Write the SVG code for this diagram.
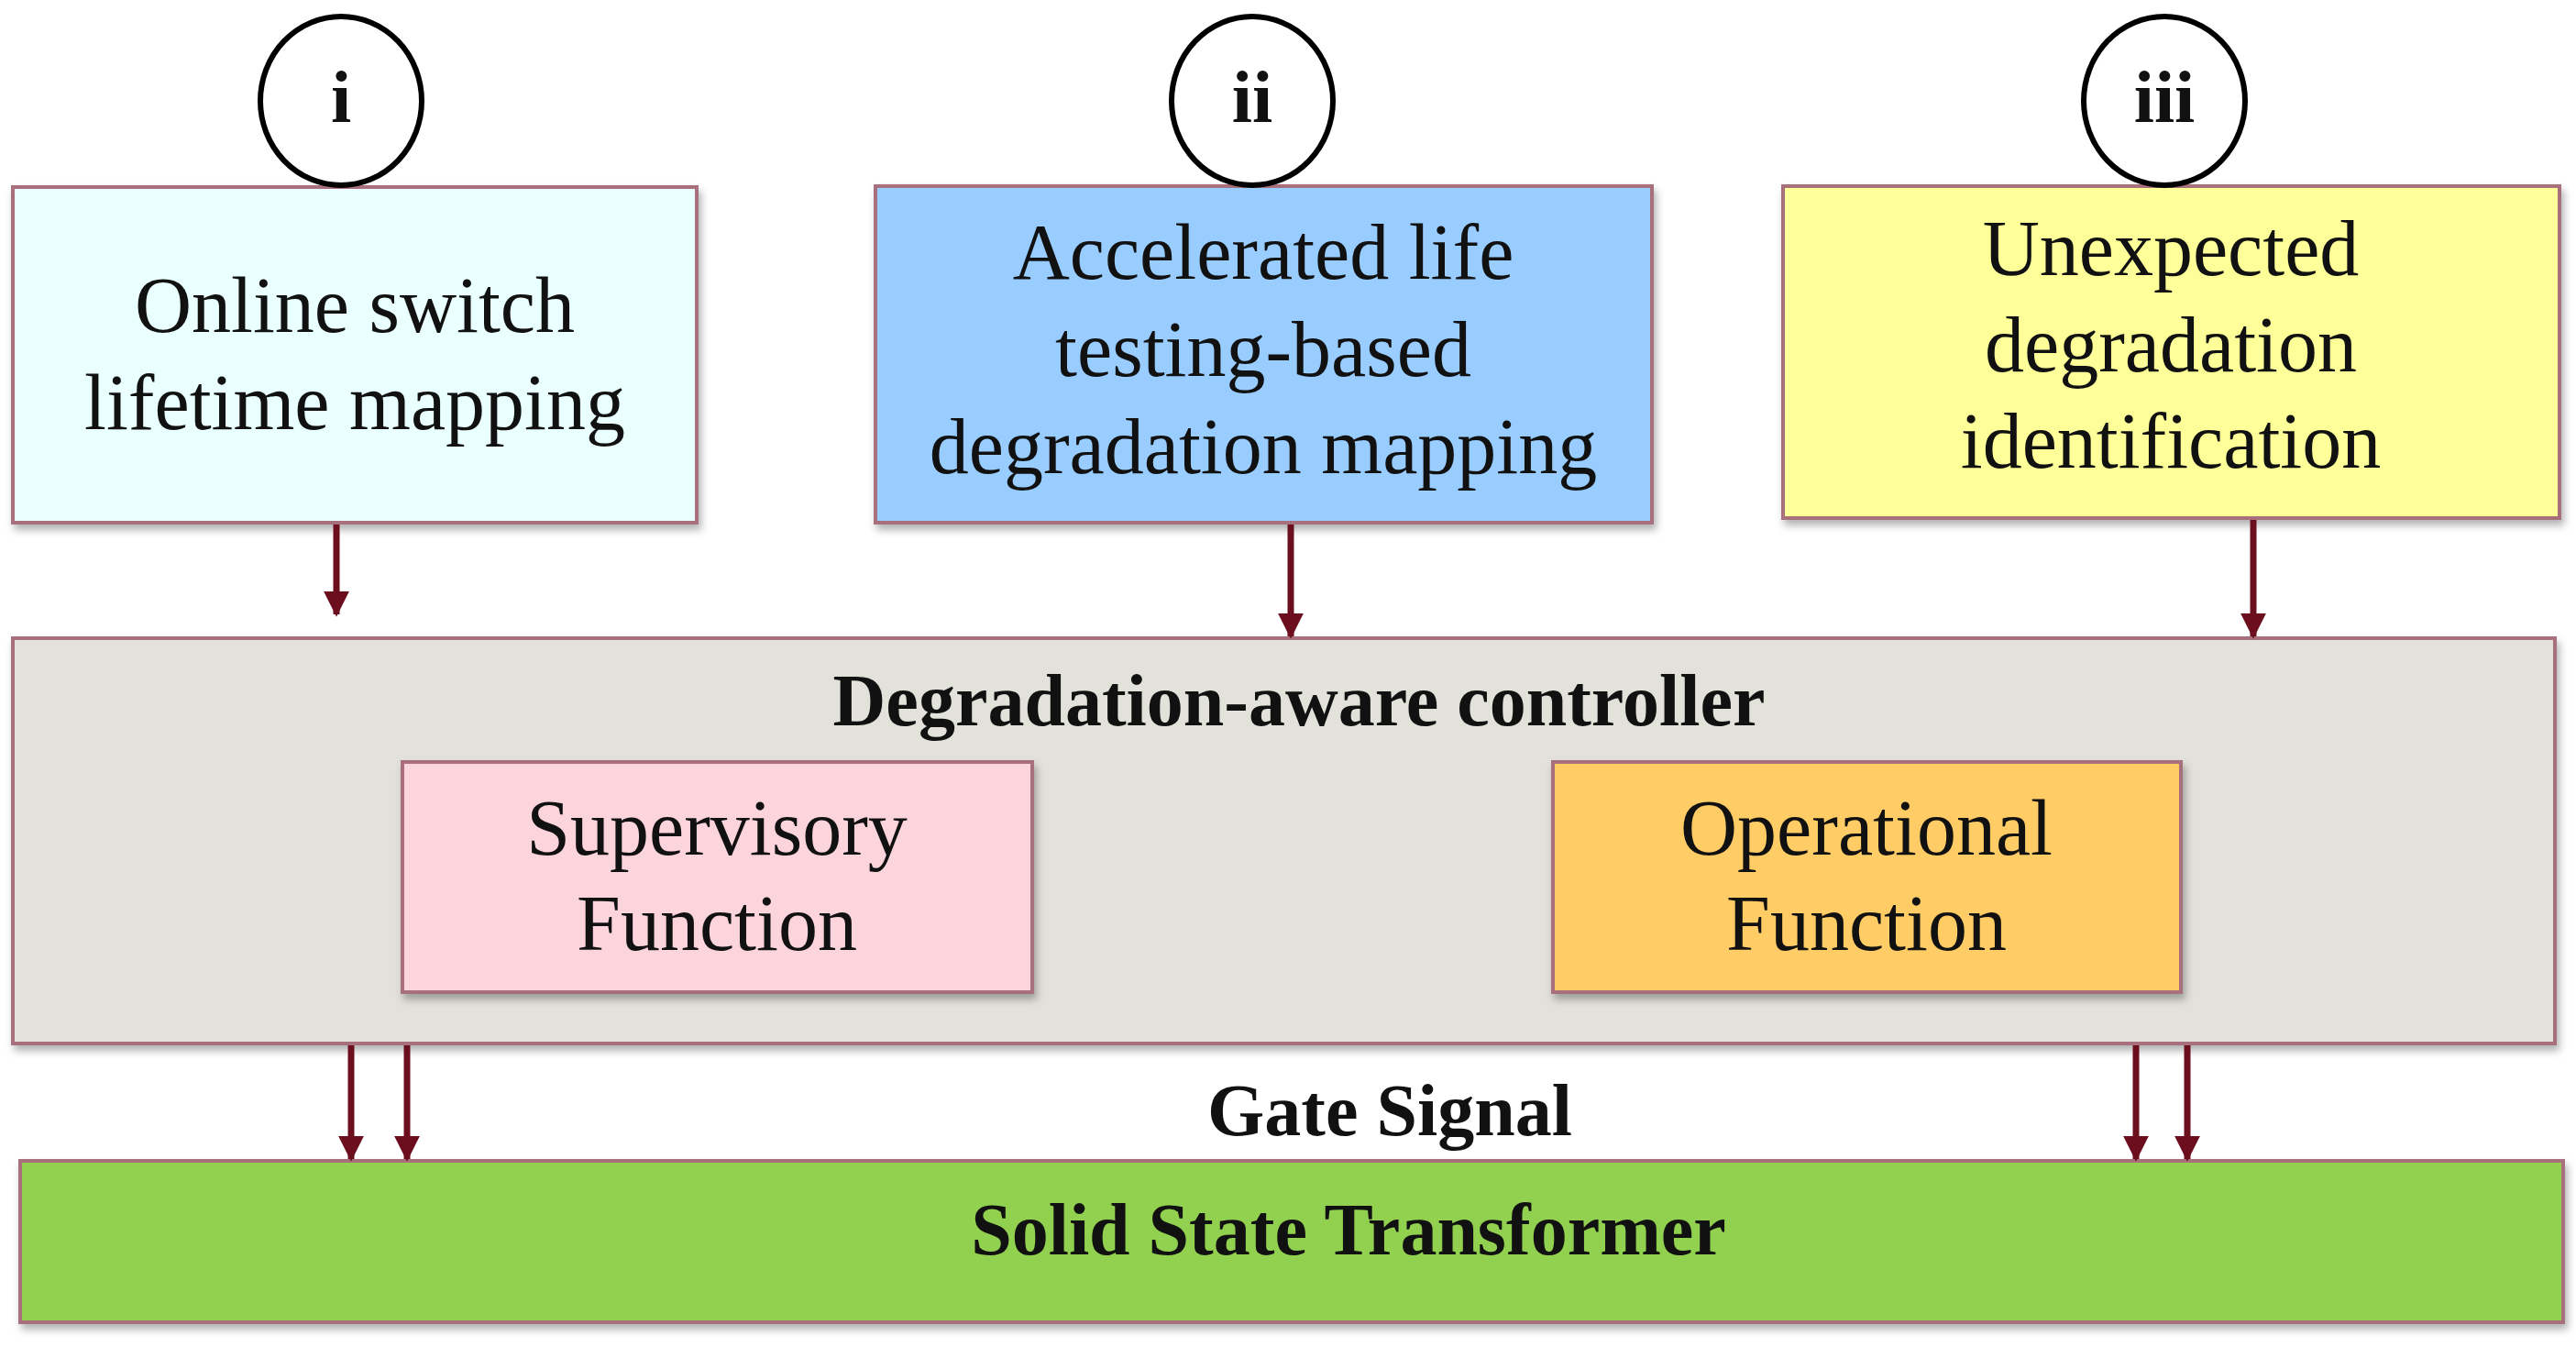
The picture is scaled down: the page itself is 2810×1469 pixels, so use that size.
<svg xmlns="http://www.w3.org/2000/svg" width="2810" height="1469" viewBox="0 0 2810 1469">
<defs>
<marker id="ah" viewBox="0 0 10 10" refX="9" refY="5" markerWidth="4" markerHeight="4" orient="auto" markerUnits="strokeWidth"><path d="M0,0 L10,5 L0,10 z" fill="#6b0f1e"/></marker>
<filter id="sh" x="-5%" y="-5%" width="110%" height="115%"><feDropShadow dx="3" dy="6" stdDeviation="4" flood-color="#000" flood-opacity="0.3"/></filter>
</defs>
<style>
.box{stroke:#a8707c;stroke-width:4;filter:url(#sh)}
.t{font-family:"Liberation Serif",serif;font-size:86px;text-anchor:middle;fill:#111}
.b{font-family:"Liberation Serif",serif;font-weight:bold;font-size:80px;text-anchor:middle;fill:#111}
.c{fill:#fff;stroke:#000;stroke-width:6}
.ln{stroke:#6b0f1e;stroke-width:7;fill:none;marker-end:url(#ah)}
</style>
<rect width="2810" height="1469" fill="#fff"/>
<g id="n1"><rect class="box" x="14" y="204" width="746" height="366" fill="#eaffff"/>
<text class="t" x="387" y="362">Online switch</text><text class="t" x="387" y="468">lifetime mapping</text></g>
<g id="n2"><rect class="box" x="955" y="203" width="847" height="367" fill="#99ccff"/>
<text class="t" x="1378" y="304">Accelerated life</text><text class="t" x="1378" y="410">testing-based</text><text class="t" x="1378" y="516">degradation mapping</text></g>
<g id="n3"><rect class="box" x="1945" y="203" width="847" height="362" fill="#ffff99"/>
<text class="t" x="2368" y="300">Unexpected</text><text class="t" x="2368" y="405">degradation</text><text class="t" x="2368" y="510">identification</text></g>
<g id="c1"><ellipse class="c" cx="372" cy="110" rx="88" ry="92"/><text class="b" x="372" y="133" font-size="66">i</text></g>
<g id="c2"><ellipse class="c" cx="1366" cy="110" rx="88" ry="92"/><text class="b" x="1366" y="133" font-size="66">ii</text></g>
<g id="c3"><ellipse class="c" cx="2361" cy="110" rx="88" ry="92"/><text class="b" x="2361" y="133" font-size="66">iii</text></g>
<g id="ctrl"><rect class="box" x="14" y="696" width="2773" height="442" fill="#e2e2da"/>
<text class="b" x="1417" y="791">Degradation-aware controller</text></g>
<g id="sup"><rect class="box" x="439" y="831" width="687" height="251" fill="#fcd5dc"/>
<text class="t" x="782" y="932">Supervisory</text><text class="t" x="782" y="1036">Function</text></g>
<g id="op"><rect class="box" x="1694" y="831" width="685" height="251" fill="#ffcc66"/>
<text class="t" x="2036" y="932">Operational</text><text class="t" x="2036" y="1036">Function</text></g>
<g id="sst"><rect class="box" x="22" y="1266" width="2774" height="176" fill="#92d050" stroke="#8a7a50"/>
<text class="b" x="1471" y="1368">Solid State Transformer</text></g>
<text class="b" x="1516" y="1238">Gate Signal</text>
<g id="connectors">
<line class="ln" x1="367" y1="572" x2="367" y2="670"/>
<line class="ln" x1="1408" y1="572" x2="1408" y2="694"/>
<line class="ln" x1="2458" y1="567" x2="2458" y2="694"/>
<line class="ln" x1="383" y1="1140" x2="383" y2="1264"/>
<line class="ln" x1="444" y1="1140" x2="444" y2="1264"/>
<line class="ln" x1="2330" y1="1140" x2="2330" y2="1264"/>
<line class="ln" x1="2386" y1="1140" x2="2386" y2="1264"/>
</g>
</svg>
